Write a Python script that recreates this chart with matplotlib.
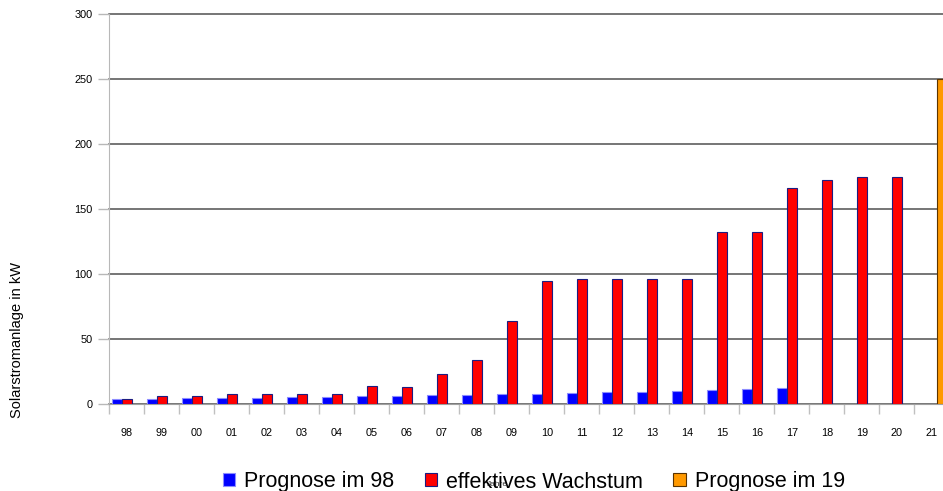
import numpy as np
import matplotlib.pyplot as plt
from matplotlib.patches import Patch

plt.rcParams['font.family'] = ['Liberation Sans', 'DejaVu Sans']

# data
jahre = ["98", "99", "00", "01", "02", "03", "04", "05", "06", "07", "08", "09",
         "10", "11", "12", "13", "14", "15", "16", "17", "18", "19", "20", "21"]
nan = np.nan
prognose_98 = [3.6, 3.8, 4.4, 4.6, 4.6, 5.4, 5.6, 5.9, 6.5, 6.7, 7.2, 7.4,
               8.0, 8.8, 9.0, 9.5, 10.3, 11.1, 11.8, 12.3, nan, nan, nan, nan]
effektiv = [4.2, 6.2, 6.2, 8, 8, 8, 8, 13.6, 13.4, 23.4, 34.2, 64,
            95, 96, 96, 96, 96, 132, 132, 166, 172, 175, 175, nan]
prognose_19 = [nan] * 23 + [250]

series = [
    ("Prognose im 98", prognose_98, "#0000ff", "#8c8cff"),
    ("effektives Wachstum", effektiv, "#ff0000", "#1c1c80"),
    ("Prognose im 19", prognose_19, "#ff9900", "#5a3300"),
]

fig = plt.figure(figsize=(9.43, 4.91), dpi=100)
ax = fig.add_axes([109.3 / 943, (491 - 404) / 491, 1 - 109.3 / 943, 390 / 491])

x = np.arange(len(jahre))
w = 0.277
for i, (name, vals, fc, ec) in enumerate(series):
    ax.bar(x + (i - 1) * w, vals, width=w, color=fc, edgecolor=ec, linewidth=0.8,
           zorder=3 + (i == 1))

ax.set_ylim(0, 300)
ax.set_xlim(-0.5, -0.5 + (943 - 109.3) / 35)
ax.set_yticks(np.arange(0, 301, 50))
ax.yaxis.grid(True, color="#505050", linewidth=1.1, zorder=1)
ax.set_axisbelow(True)
for gl in ax.get_ygridlines():
    gl.set_clip_on(False)

ax.set_xticks(x)
ax.set_xticklabels(jahre, fontsize=7.8)
ax.set_xticks(np.arange(len(jahre)) - 0.5, minor=True)
ax.tick_params(axis="x", which="major", length=0, pad=17.5)
ax.tick_params(axis="x", which="minor", length=7.5, color="#c0c0c0", width=1)
ax.tick_params(axis="y", length=8, color="#b8b8b8", width=1, pad=4, labelsize=7.8)

for s in ["top", "right"]:
    ax.spines[s].set_visible(False)
ax.spines["left"].set_color("#b8b8b8")
ax.spines["bottom"].set_color("#a0a0a0")

fig.text(17 / 943, 1 - 340 / 491, "Solarstromanlage in kW", rotation=90,
         ha="center", va="center", fontsize=10.5)
fig.text(497 / 943, 1 - 484 / 491, "Jahre", ha="center", va="center",
         fontsize=6, color="#333333")

handles = [Patch(facecolor=fc, edgecolor=ec, linewidth=0.8, label=name)
           for name, _, fc, ec in series]
fig.legend(handles=handles, loc="center", bbox_to_anchor=(534 / 943, 1 - 482 / 491),
           ncol=3, frameon=False, fontsize=15.5, handlelength=0.56, handleheight=0.56,
           handletextpad=0.45, columnspacing=1.4, borderpad=0)

fig.savefig("out.png", dpi=100)
